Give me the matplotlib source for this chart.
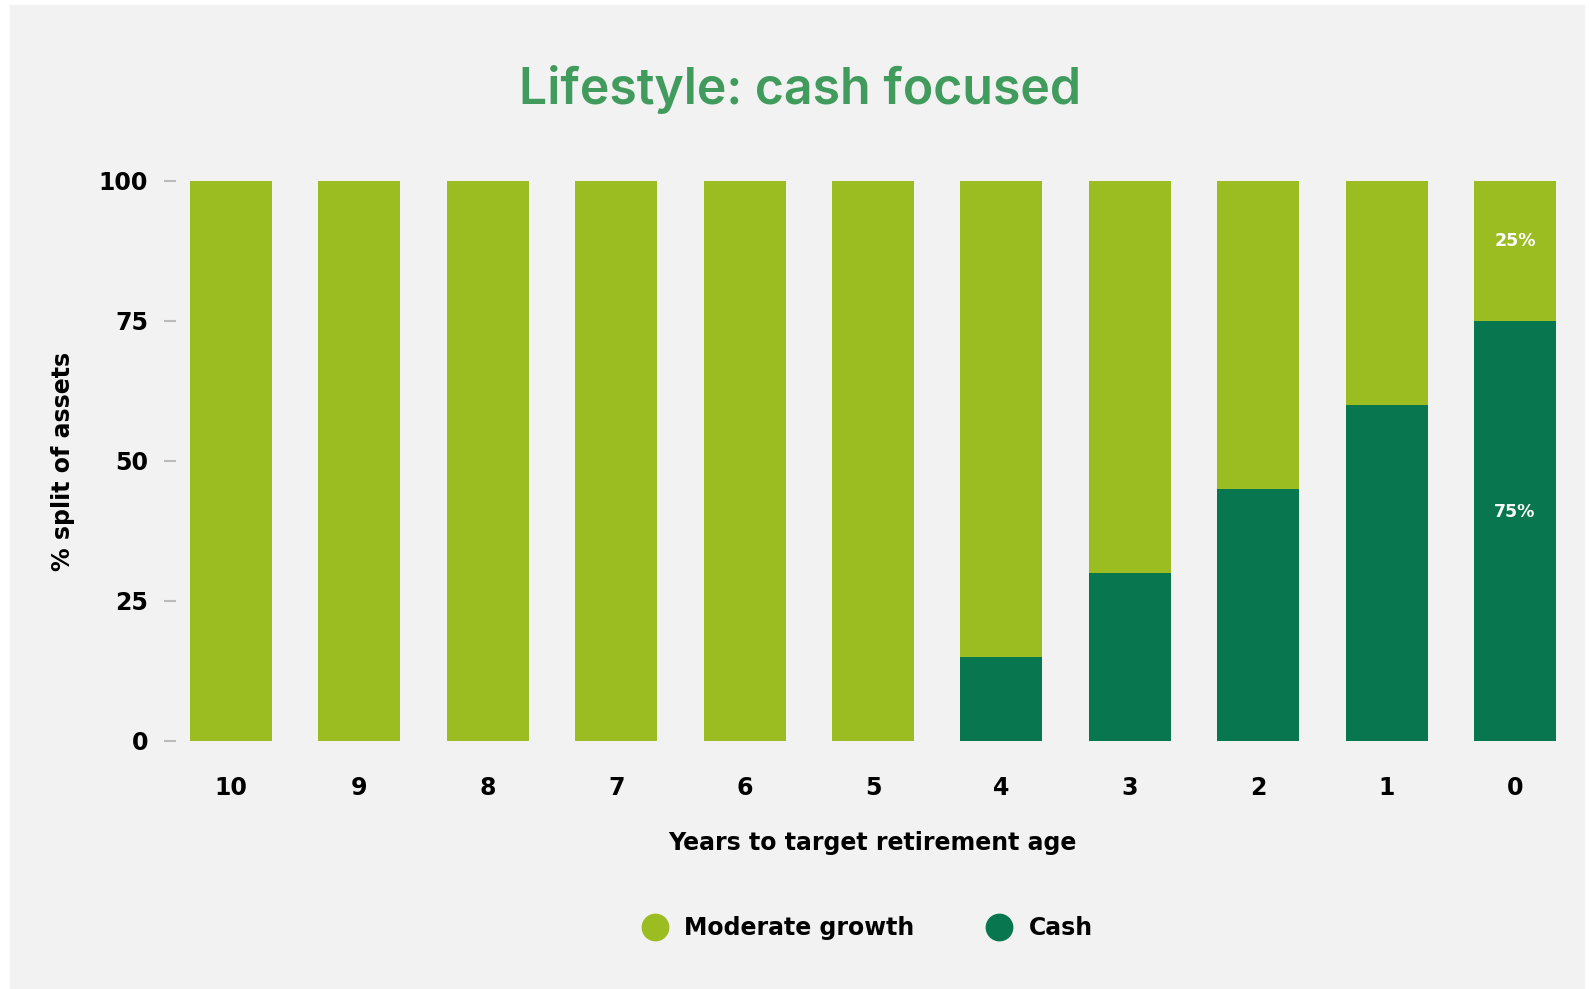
import numpy as np
from matplotlib import pyplot as plt
from matplotlib.patches import Rectangle
from matplotlib.lines import Line2D

years = ["10", "9", "8", "7", "6", "5", "4", "3", "2", "1", "0"]
cash = [0, 0, 0, 0, 0, 0, 15, 30, 45, 60, 75]
moderate_growth = [100, 100, 100, 100, 100, 100, 85, 70, 55, 40, 25]
labelled_year = "0"

green_light = '#9bbd21'
green_dark = '#08764f'
title_green = '#409b5d'
bg = '#f2f2f2'

plt.rcParams['font.family'] = ['DejaVu Sans']

fig = plt.figure(figsize=(15.89, 9.89), dpi=100)
W, H = 1589, 989
# grey panel with a thin white border like the screenshot
fig.patches.append(Rectangle((10 / W, 0), (1584 - 10) / W, 1 - 5 / H,
                             transform=fig.transFigure, color=bg, zorder=-10))

ax = fig.add_axes([176 / W, 1 - 741 / H, (1560 - 176) / W, (741 - 181) / H])
ax.patch.set_alpha(0)

x = np.arange(len(years))
w = 0.64
step = (1515 - 231) / 10
ax.bar(x, cash, width=w, color=green_dark, label="Cash", zorder=2)
ax.bar(x, moderate_growth, width=w, bottom=cash, color=green_light, label="Moderate growth", zorder=2)

# percentage labels on the last bar
i = years.index(labelled_year)
ax.annotate(f"{moderate_growth[i]}%", (x[i], cash[i] + moderate_growth[i] / 2), xytext=(0, 7),
            textcoords='offset points', ha='center', va='center', color='white',
            fontsize=12.5, fontweight='bold')
ax.annotate(f"{cash[i]}%", (x[i], cash[i] / 2), xytext=(0, 14),
            textcoords='offset points', ha='center', va='center', color='white',
            fontsize=12.5, fontweight='bold')

ax.set_xlim(-(231 - 176) / step, 10 + (1560 - 1515) / step)
ax.set_ylim(0, 100)
ax.set_yticks([0, 25, 50, 75, 100])
ax.set_xticks(x)
ax.set_xticklabels(years)
for s in ax.spines.values():
    s.set_visible(False)
ax.tick_params(axis='y', length=9, width=1.5, color='#bbbbbb', pad=11, labelsize=17)
ax.tick_params(axis='x', length=0, pad=25.5, labelsize=17)
for t in ax.get_xticklabels() + ax.get_yticklabels():
    t.set_fontweight('bold')

fig.text(63 / W, 1 - 461 / H, "% split of assets", rotation=90, ha='center', va='center',
         fontsize=17, fontweight='bold')
fig.text(872 / W, 1 - 843 / H, "Years to target retirement age", ha='center', va='center',
         fontsize=17, fontweight='bold')
fig.text(800 / W, 1 - 89 / H, "Lifestyle: cash focused", ha='center', va='center',
         fontsize=36, fontweight='semibold', color=title_green, family=['Inter', 'DejaVu Sans'])

handles = [Line2D([], [], marker='o', ls='', ms=19, color=green_light),
           Line2D([], [], marker='o', ls='', ms=19, color=green_dark)]
fig.legend(handles, ["Moderate growth", "Cash"], loc='center', bbox_to_anchor=(868 / W, 1 - 928 / H),
           ncol=2, frameon=False, prop={'size': 17, 'weight': 'bold'},
           handletextpad=0.75, columnspacing=3.1, handlelength=1.0)

plt.savefig('out.png', dpi=100, facecolor='white')
